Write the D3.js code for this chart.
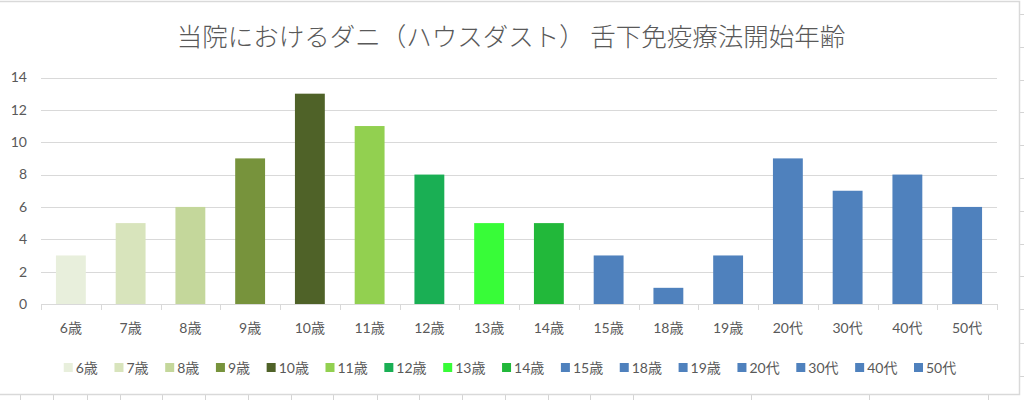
<!DOCTYPE html>
<html><head><meta charset="utf-8">
<script src="https://cdn.jsdelivr.net/npm/d3@7/dist/d3.min.js"></script>
<style>
body{margin:0;background:#fff;}
text{font-family:Lato,"Noto Sans CJK JP",sans-serif;}
</style></head>
<body><svg id="c" width="1024" height="400"></svg>
<script>
const title = "当院におけるダニ（ハウスダスト） 舌下免疫療法開始年齢";
const categories = ["6歳","7歳","8歳","9歳","10歳","11歳","12歳","13歳","14歳","15歳","18歳","19歳","20代","30代","40代","50代"];
const values = [3,5,6,9,13,11,8,5,5,3,1,3,9,7,8,6];
const colors = ["#e8efdc","#d8e4bc","#c4d79b","#77933c","#4f6228","#92d050","#1aaf54","#38fc38","#22b83a","#4f81bd","#4f81bd","#4f81bd","#4f81bd","#4f81bd","#4f81bd","#4f81bd"];
const yTicks = [0,2,4,6,8,10,12,14];

const svg = d3.select("#c");
const grid = "#d9d9d9", txt = "#595959";

// spreadsheet background decoration
const deco = svg.append("g").attr("stroke","#d4d4d4").attr("stroke-width",1);
[14,47,80,112,145,178,211,244,276,309,343,376].forEach(y=>deco.append("line").attr("x1",1020).attr("x2",1024).attr("y1",y+0.5).attr("y2",y+0.5));
[20,53,87,120,162,205,248,291,333,377,419,462,505,548,590,633,751,869,988].forEach(x=>deco.append("line").attr("x1",x+0.5).attr("x2",x+0.5).attr("y1",395).attr("y2",400));
// chart border
svg.append("rect").attr("x",-1).attr("y",1.5).attr("width",1020.5).attr("height",393)
  .attr("fill","#fff").attr("stroke",grid).attr("stroke-width",1.5);

const x = d3.scaleBand().domain(categories).range([41,997]).paddingInner(0.5).paddingOuter(0.25);
const y = d3.scaleLinear().domain([0,14]).range([304,77.5]);

// gridlines
svg.append("g").selectAll("line").data(yTicks.filter(d=>d>0)).join("line")
  .attr("x1",41).attr("x2",997).attr("y1",d=>Math.round(y(d))+0.5).attr("y2",d=>Math.round(y(d))+0.5)
  .attr("stroke",grid).attr("stroke-width",1);

// y labels
svg.append("g").selectAll("text").data(yTicks).join("text")
  .attr("x",27).attr("y",d=>y(d)).attr("dy","0.35em").attr("text-anchor","end")
  .attr("fill",txt).attr("font-size",14).text(d=>d);

// bars
svg.append("g").selectAll("rect").data(values).join("rect")
  .attr("x",(d,i)=>x(categories[i])).attr("width",x.bandwidth())
  .attr("y",d=>y(d)).attr("height",d=>y(0)-y(d))
  .attr("fill",(d,i)=>colors[i]);

// x axis
const xa = svg.append("g").attr("stroke",grid).attr("stroke-width",1);
xa.append("line").attr("x1",41).attr("x2",997).attr("y1",304.5).attr("y2",304.5);
d3.range(categories.length+1).forEach(i=>{
  const xx = Math.round(41+i*(956/categories.length))+0.5;
  xa.append("line").attr("x1",xx).attr("x2",xx).attr("y1",304).attr("y2",310);
});
svg.append("g").selectAll("text").data(categories).join("text")
  .attr("x",d=>x(d)+x.bandwidth()/2).attr("y",328).attr("dy","0.35em")
  .attr("text-anchor","middle").attr("fill",txt).attr("font-size",14).text(d=>d);

// title
svg.append("text").attr("x",511).attr("y",37).attr("dy","0.35em").attr("text-anchor","middle")
  .attr("fill",txt).attr("font-size",25.5).attr("font-weight",300)
  .style("font-family","'Noto Sans CJK JP',sans-serif").text(title);

// legend
const lg = svg.append("g");
let cx = 0;
categories.forEach((c,i)=>{
  const g = lg.append("g");
  g.append("rect").attr("x",0).attr("y",363).attr("width",9).attr("height",9).attr("fill",colors[i]);
  const t = g.append("text").attr("x",12).attr("y",368).attr("dy","0.35em").attr("fill",txt).attr("font-size",14).text(c);
  const w = 12 + t.node().getComputedTextLength();
  g.attr("transform",`translate(${cx},0)`);
  cx += w + (i<categories.length-1?16.6:0);
});
lg.attr("transform",`translate(${510-cx/2},0)`);
</script></body></html>
